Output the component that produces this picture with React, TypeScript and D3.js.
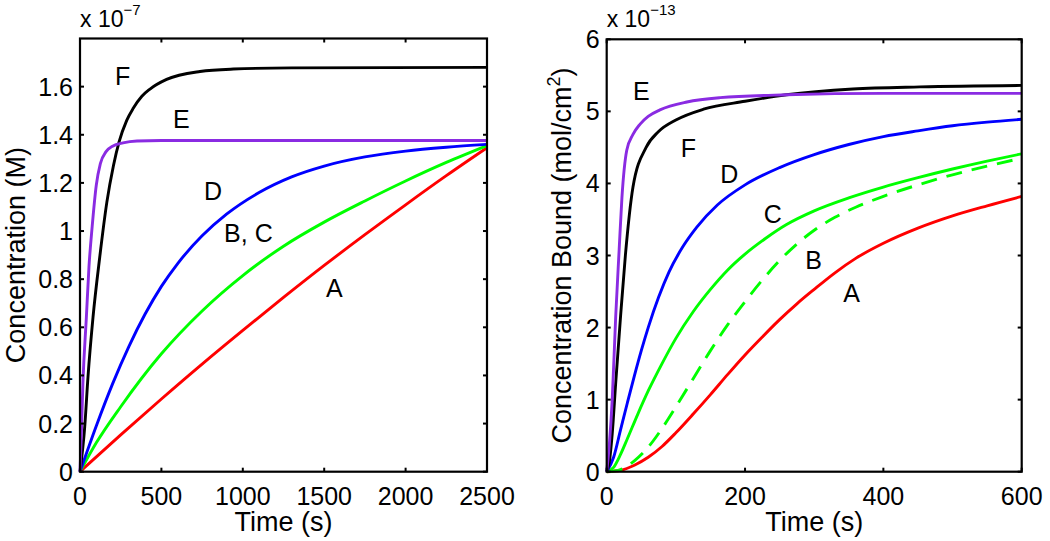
import React from 'react';
import * as d3 from 'd3';

type P = [number, number];

// ---------- Left panel data (time s, concentration x1e-7 M) ----------
const leftXTicks = [0, 500, 1000, 1500, 2000, 2500];
const leftYTicks = [0, 0.2, 0.4, 0.6, 0.8, 1, 1.2, 1.4, 1.6];

const leftA: P[] = [[0, 0], [250, 0.153], [500, 0.302], [750, 0.447], [1000, 0.587], [1250, 0.724], [1500, 0.857], [1750, 0.985], [2000, 1.109], [2250, 1.23], [2500, 1.346]];
const leftBC: P[] = [[0, 0], [100, 0.12], [250, 0.27], [500, 0.49], [750, 0.668], [1000, 0.815], [1250, 0.937], [1500, 1.037], [1750, 1.125], [2000, 1.208], [2250, 1.285], [2500, 1.355]];
const leftD: P[] = [[0, 0], [100, 0.19], [200, 0.365], [300, 0.52], [400, 0.655], [500, 0.77], [600, 0.865], [750, 0.98], [900, 1.07], [1100, 1.16], [1300, 1.225], [1500, 1.27], [1750, 1.308], [2000, 1.332], [2250, 1.348], [2500, 1.36]];
const leftE: P[] = [[0, 0], [8, 0.15], [18, 0.37], [39, 0.64], [55, 0.85], [75, 1.02], [100, 1.19], [125, 1.28], [160, 1.33], [200, 1.352], [264, 1.366], [350, 1.374], [500, 1.376], [2500, 1.376]];
const leftF: P[] = [[0, 0], [29, 0.186], [49, 0.393], [80, 0.642], [121, 0.89], [165, 1.12], [205, 1.27], [240, 1.37], [287, 1.46], [327, 1.51], [380, 1.56], [430, 1.59], [532, 1.63], [737, 1.663], [942, 1.673], [1300, 1.678], [2500, 1.68]];

// ---------- Right panel data (time s, bound x1e-13 mol/cm^2) ----------
const rightXTicks = [0, 200, 400, 600];
const rightYTicks = [0, 1, 2, 3, 4, 5, 6];

const rightA: P[] = [[0, 0], [20, 0.02], [40, 0.09], [60, 0.2], [80, 0.35], [100, 0.54], [125, 0.8], [150, 1.07], [175, 1.35], [200, 1.62], [225, 1.87], [250, 2.11], [275, 2.33], [300, 2.53], [330, 2.76], [360, 2.96], [400, 3.17], [450, 3.38], [500, 3.55], [550, 3.69], [600, 3.82]];
const rightB: P[] = [[0, 0], [20, 0.03], [40, 0.15], [60, 0.34], [80, 0.6], [100, 0.9], [125, 1.29], [150, 1.68], [175, 2.04], [200, 2.36], [225, 2.66], [250, 2.93], [275, 3.16], [300, 3.35], [330, 3.53], [360, 3.67], [400, 3.82], [450, 3.98], [500, 4.12], [550, 4.24], [600, 4.35]];
const rightC: P[] = [[0, 0], [10, 0.06], [20, 0.24], [30, 0.46], [45, 0.8], [60, 1.12], [80, 1.5], [100, 1.85], [125, 2.22], [150, 2.53], [175, 2.8], [200, 3.02], [230, 3.24], [260, 3.43], [300, 3.62], [350, 3.8], [400, 3.95], [450, 4.08], [500, 4.2], [550, 4.31], [600, 4.41]];
const rightD: P[] = [[0, 0], [10, 0.2], [20, 0.58], [30, 0.96], [40, 1.33], [50, 1.68], [60, 2.0], [75, 2.42], [90, 2.77], [110, 3.12], [130, 3.39], [160, 3.7], [200, 3.98], [250, 4.22], [300, 4.4], [350, 4.54], [400, 4.65], [450, 4.73], [500, 4.8], [550, 4.85], [600, 4.89]];
const rightE: P[] = [[0, 0], [4, 0.4], [8, 1.0], [13, 2.15], [18, 3.08], [22, 3.8], [29, 4.46], [38, 4.68], [48, 4.82], [60, 4.93], [77, 5.02], [116, 5.13], [164, 5.19], [260, 5.23], [400, 5.25], [600, 5.25]];
const rightF: P[] = [[0, 0], [4, 0.15], [8, 0.53], [13, 1.23], [20, 2.15], [27, 3.0], [38, 3.95], [57, 4.5], [75, 4.72], [100, 4.88], [140, 5.03], [200, 5.14], [260, 5.23], [356, 5.31], [453, 5.34], [600, 5.36]];

const RED = '#ff0000';
const GREEN = '#00ff00';
const BLUE = '#0000ff';
const PURPLE = '#8a2be2';
const BLACK = '#000000';

const FONT = '"Liberation Sans", Arial, Helvetica, sans-serif';

type Series = { data: P[]; color: string; dash?: string };
type Lbl = { text: string; x: number; y: number };

type PanelProps = {
  x0: number; x1: number; yTop: number; yBot: number;
  xDomain: [number, number]; yDomain: [number, number];
  xTicks: number[]; yTicks: number[];
  series: Series[]; labels: Lbl[];
  exp: string; ylabel: React.ReactNode; ylabelX: number;
};

function Panel(p: PanelProps) {
  const x = d3.scaleLinear().domain(p.xDomain).range([p.x0, p.x1]);
  const y = d3.scaleLinear().domain(p.yDomain).range([p.yBot, p.yTop]);
  const line = d3.line<P>().x(d => x(d[0])).y(d => y(d[1])).curve(d3.curveMonotoneX);
  const tl = 4;
  const cx = (p.x0 + p.x1) / 2;
  const cy = (p.yTop + p.yBot) / 2;
  return (
    <g>
      {p.series.map((s, i) => (
        <path key={i} d={line(s.data) || ''} fill="none" stroke={s.color} strokeWidth={2.9}
          strokeDasharray={s.dash} strokeLinejoin="round" />
      ))}
      <rect x={p.x0} y={p.yTop} width={p.x1 - p.x0} height={p.yBot - p.yTop} fill="none" stroke="#000" strokeWidth={2.2} />
      {p.xTicks.map((t, i) => (
        <g key={'xt' + i}>
          <line x1={x(t)} x2={x(t)} y1={p.yBot} y2={p.yBot - tl} stroke="#000" strokeWidth={2} />
          <line x1={x(t)} x2={x(t)} y1={p.yTop} y2={p.yTop + tl} stroke="#000" strokeWidth={2} />
          <text x={x(t)} y={505} textAnchor="middle" fontSize={25} fontFamily={FONT}>{String(t)}</text>
        </g>
      ))}
      {p.yTicks.map((t, i) => (
        <g key={'yt' + i}>
          <line x1={p.x0} x2={p.x0 + tl} y1={y(t)} y2={y(t)} stroke="#000" strokeWidth={2} />
          <line x1={p.x1} x2={p.x1 - tl} y1={y(t)} y2={y(t)} stroke="#000" strokeWidth={2} />
          <text x={p.x0 - 7} y={y(t)} dy="0.36em" textAnchor="end" fontSize={25} fontFamily={FONT}>{String(t)}</text>
        </g>
      ))}
      {p.labels.map((l, i) => (
        <text key={'l' + i} x={x(l.x)} y={y(l.y)} fontSize={25} fontFamily={FONT}>{l.text}</text>
      ))}
      <text x={cx} y={531} textAnchor="middle" fontSize={27} fontFamily={FONT}>Time (s)</text>
      <text transform={`translate(${p.ylabelX},${cy}) rotate(-90)`} textAnchor="middle" fontSize={27} fontFamily={FONT}>{p.ylabel}</text>
      <text x={p.x0} y={27} fontSize={23} fontFamily={FONT}>
        x 10<tspan dy={-12.5} fontSize={15}>{p.exp}</tspan>
      </text>
    </g>
  );
}

export default function App() {
  return (
    <svg width={1050} height={541} style={{ display: 'block', position: 'absolute', left: 0, top: 0, background: '#fff' }}>
      <rect x={0} y={0} width={1050} height={541} fill="#fff" />
      <Panel
        x0={80} x1={487} yTop={38.5} yBot={471.7}
        xDomain={[0, 2500]} yDomain={[0, 1.8]}
        xTicks={leftXTicks} yTicks={leftYTicks}
        series={[
          { data: leftA, color: RED },
          { data: leftBC, color: GREEN },
          { data: leftD, color: BLUE },
          { data: leftF, color: BLACK },
          { data: leftE, color: PURPLE },
        ]}
        labels={[
          { text: 'F', x: 215, y: 1.607 },
          { text: 'E', x: 572, y: 1.428 },
          { text: 'D', x: 762, y: 1.128 },
          { text: 'B, C', x: 885, y: 0.954 },
          { text: 'A', x: 1511, y: 0.727 },
        ]}
        exp="−7"
        ylabel="Concentration (M)"
        ylabelX={25}
      />
      <Panel
        x0={606.7} x1={1021.7} yTop={39.3} yBot={471.7}
        xDomain={[0, 600]} yDomain={[0, 6]}
        xTicks={rightXTicks} yTicks={rightYTicks}
        series={[
          { data: rightA, color: RED },
          { data: rightB, color: GREEN, dash: '16,10' },
          { data: rightC, color: GREEN },
          { data: rightD, color: BLUE },
          { data: rightF, color: BLACK },
          { data: rightE, color: PURPLE },
        ]}
        labels={[
          { text: 'E', x: 38, y: 5.157 },
          { text: 'F', x: 107, y: 4.371 },
          { text: 'D', x: 164, y: 4.01 },
          { text: 'C', x: 227, y: 3.455 },
          { text: 'B', x: 287, y: 2.813 },
          { text: 'A', x: 342, y: 2.359 },
        ]}
        exp="−13"
        ylabel={<>Concentration Bound (mol/cm<tspan dy={-11} fontSize={18}>2</tspan><tspan dy={11}>)</tspan></>}
        ylabelX={571}
      />
    </svg>
  );
}
